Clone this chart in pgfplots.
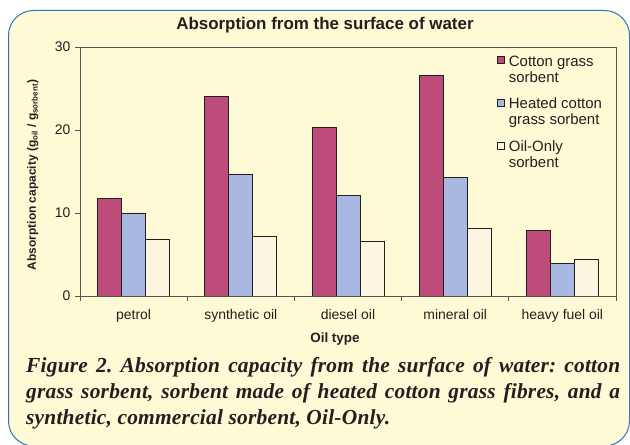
\documentclass[border=0pt]{standalone}
\usepackage{fontspec}
\setmainfont{Liberation Sans}
\newfontfamily\capfont{Liberation Serif}[LetterSpace=1.0]
\usepackage{pgfplots}
\pgfplotsset{compat=1.18}
\definecolor{bg}{RGB}{255,250,214}
\definecolor{frame}{RGB}{46,117,182}
\definecolor{cotton}{RGB}{190,76,122}
\definecolor{heated}{RGB}{168,184,224}
\definecolor{oilonly}{RGB}{252,246,224}
\definecolor{txt}{RGB}{35,31,32}
\definecolor{axgray}{RGB}{85,85,85}
\newcommand{\legtwo}[2]{\begin{tabular}[t]{@{}l@{}}#1\\#2\end{tabular}}
\begin{document}
\frenchspacing
\begin{tikzpicture}
\useasboundingbox (0,0) rectangle (630bp,445bp);
\draw[frame, line width=1bp, fill=bg, rounded corners=25bp] (8.5bp,-1bp) rectangle (629.5bp,434.5bp);
\begin{axis}[
  at={(80bp,149bp)}, anchor=south west,
  scale only axis, width=536bp, height=249bp,
  ybar=0pt, bar width=24bp,
  xmin=-0.5, xmax=4.5, ymin=0, ymax=30,
  axis line style={axgray, line width=0.8bp},
  tick align=outside, major tick length=5bp, minor tick length=5bp,
  tick style={axgray, line width=0.8bp},
  xtick={0,1,2,3,4},
  xticklabels={petrol, synthetic oil, diesel oil, mineral oil, heavy fuel oil},
  major x tick style={draw=none},
  minor xtick={-0.5,0.5,1.5,2.5,3.5,4.5},
  ytick={0,10,20,30},
  xtick pos=bottom, ytick pos=left,
  /pgf/number format/assume math mode=true,
  ticklabel style={font=\fontsize{14}{16}\selectfont, text=txt},
  yticklabel style={xshift=-1bp},
  xticklabel style={text height=10bp, text depth=3bp, yshift=-5bp},
  title={Absorption from the surface of water},
  title style={at={(axis description cs:0.457,1.0454)}, anchor=base, font=\bfseries\fontsize{17}{19}\selectfont, text=txt},
  xlabel={Oil type},
  xlabel style={at={(axis description cs:0.4757,-0.188)}, anchor=base, font=\bfseries\fontsize{13.5}{15}\selectfont, text=txt},
  ylabel={Absorption capacity (g\textsubscript{oil} / g\textsubscript{sorbent})},
  ylabel style={at={(axis description cs:-0.0882,0.486)}, anchor=center, font=\bfseries\fontsize{12}{14}\selectfont, text=txt},
  legend image code/.code={\draw[#1, line width=0.7bp] (0bp,2.5bp) rectangle (7bp,9.5bp);},
  legend style={at={(0.778,0.968)}, anchor=north west, draw=none, fill=none,
    inner sep=0pt, row sep=30bp, column sep=4bp,
    font=\fontsize{15}{16}\selectfont, text=txt,
    nodes={inner sep=0pt}, cells={anchor=base west}},
]
\addplot[fill=cotton, draw=txt, line width=0.8bp] coordinates {(0,11.8) (1,24.0) (2,20.3) (3,26.6) (4,7.9)};
\addlegendentry{\legtwo{Cotton grass}{sorbent}}
\addplot[fill=heated, draw=txt, line width=0.8bp] coordinates {(0,10.0) (1,14.7) (2,12.1) (3,14.3) (4,3.9)};
\addlegendentry{\legtwo{Heated cotton}{grass sorbent}}
\addplot[fill=oilonly, draw=txt, line width=0.8bp] coordinates {(0,6.8) (1,7.2) (2,6.55) (3,8.1) (4,4.4)};
\addlegendentry{\legtwo{Oil-Only}{sorbent}}
\end{axis}
\begin{scope}[every node/.style={anchor=base west, inner sep=0pt, text=txt, font=\capfont\bfseries\itshape\fontsize{21.5}{25.5}\selectfont}]
\node at (26bp,72bp) {\makebox[594bp][s]{Figure 2. Absorption capacity from the surface of water: cotton}};
\node at (26bp,46bp) {\makebox[594bp][s]{grass sorbent, sorbent made of heated cotton grass fibres, and a}};
\node at (26bp,21bp) {synthetic, commercial sorbent, Oil-Only.};
\end{scope}
\end{tikzpicture}
\end{document}
